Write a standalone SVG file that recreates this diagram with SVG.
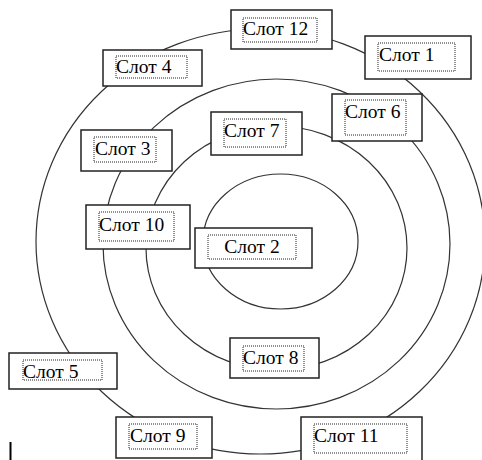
<svg xmlns="http://www.w3.org/2000/svg" width="482" height="460" viewBox="0 0 482 460">
<style>
.ring{fill:none;stroke:#333;stroke-width:1.2}
.box{fill:#fff;stroke:#222;stroke-width:1.5}
.dot{fill:none;stroke:#222;stroke-width:1;stroke-dasharray:1 1}
text{font-family:'Liberation Serif','Times New Roman','DejaVu Serif',serif;font-size:19.5px;fill:#000}
</style>
<rect width="482" height="460" fill="#fff"/>
<g id="connectors">
<ellipse class="ring" cx="260.5" cy="241.5" rx="224.5" ry="212.5"/>
<ellipse class="ring" cx="276.5" cy="244" rx="173.5" ry="165"/>
<ellipse class="ring" cx="276.5" cy="248" rx="130.5" ry="122"/>
<ellipse class="ring" cx="280.5" cy="241.5" rx="77.5" ry="67.5"/>
</g>
<g id="slot12"><rect class="box" x="231" y="10" width="101" height="39"/><rect class="dot" x="243" y="18" width="74" height="24"/><text x="243" y="35">Слот 12</text></g>
<g id="slot1"><rect class="box" x="365" y="36" width="106" height="43"/><rect class="dot" x="378" y="43" width="77" height="28"/><text x="379" y="61">Слот 1</text></g>
<g id="slot4"><rect class="box" x="103" y="50" width="99" height="36"/><rect class="dot" x="116" y="56" width="71" height="22"/><text x="116" y="73">Слот 4</text></g>
<g id="slot6"><rect class="box" x="332" y="94" width="90" height="47"/><rect class="dot" x="345" y="100" width="61" height="35"/><text x="345" y="118">Слот 6</text></g>
<g id="slot7"><rect class="box" x="211" y="112" width="91" height="43"/><rect class="dot" x="224" y="119" width="62" height="28"/><text x="224" y="137">Слот 7</text></g>
<g id="slot3"><rect class="box" x="81" y="130" width="91" height="41"/><rect class="dot" x="94" y="137" width="62" height="25"/><text x="95" y="155">Слот 3</text></g>
<g id="slot10"><rect class="box" x="86" y="205" width="104" height="44"/><rect class="dot" x="99" y="212" width="75" height="29"/><text x="99" y="231">Слот 10</text></g>
<g id="slot2"><rect class="box" x="195" y="228" width="117" height="40"/><rect class="dot" x="208" y="235" width="88" height="24"/><text x="252" y="253" text-anchor="middle">Слот 2</text></g>
<g id="slot8"><rect class="box" x="230" y="338" width="89" height="40"/><rect class="dot" x="243" y="346" width="61" height="25"/><text x="243" y="364">Слот 8</text></g>
<g id="slot5"><rect class="box" x="9" y="353" width="108" height="36"/><rect class="dot" x="23" y="360" width="79" height="20"/><text x="23" y="378">Слот 5</text></g>
<g id="slot9"><rect class="box" x="116" y="417" width="96" height="41"/><rect class="dot" x="129" y="424" width="68" height="25"/><text x="130" y="442">Слот 9</text></g>
<g id="slot11"><rect class="box" x="301" y="417" width="121" height="50"/><rect class="dot" x="314" y="424" width="93" height="29"/><text x="314" y="442">Слот 11</text></g>
<line x1="10.5" y1="442" x2="10.5" y2="460" stroke="#000" stroke-width="2"/>
</svg>
